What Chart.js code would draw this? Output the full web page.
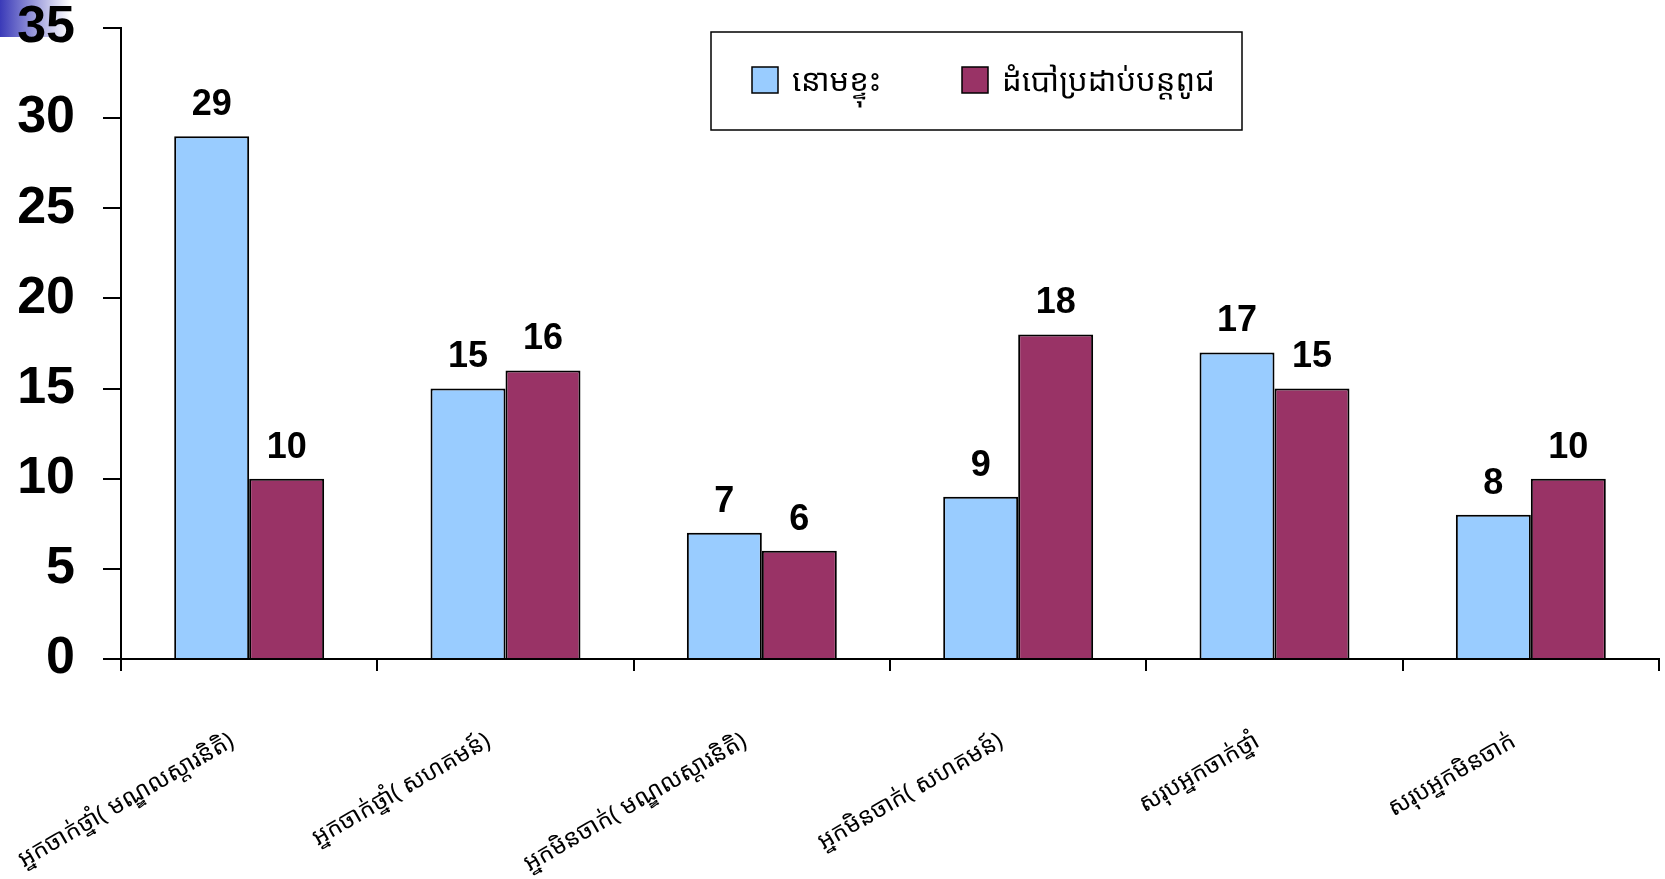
<!DOCTYPE html>
<html><head><meta charset="utf-8">
<script src="https://cdn.jsdelivr.net/npm/chart.js@4.4.1/dist/chart.umd.min.js"></script>
<style>
html,body{margin:0;padding:0;background:#fff;}
#wrap{position:relative;width:1665px;height:879px;}
#corner{position:absolute;left:0;top:0;width:70px;height:37px;background:linear-gradient(to right,#3a3ab8,#ffffff);}
canvas{position:absolute;left:0;top:0;}
</style></head>
<body>
<div id="wrap"><div id="corner"></div><canvas id="c" width="1665" height="879"></canvas></div>
<script>
const categories = [
  "អ្នកចាក់ថ្នាំ( មណ្ឌលស្តារនិតិ)",
  "អ្នកចាក់ថ្នាំ( សហគមន៍)",
  "អ្នកមិនចាក់( មណ្ឌលស្តារនិតិ)",
  "អ្នកមិនចាក់( សហគមន៍)",
  "សរុបអ្នកចាក់ថ្នាំ",
  "សរុបអ្នកមិនចាក់"
];
const seriesNames = ["នោមខ្ទុះ", "ដំបៅប្រដាប់បន្តពូជ"];
const gonorrhea = [29, 15, 7, 9, 17, 8];
const ulcer = [10, 16, 6, 18, 15, 10];
const yTicks = [0, 5, 10, 15, 20, 25, 30, 35];

const khmerFont = "'Noto Sans Khmer','Khmer OS','DejaVu Sans',sans-serif";

const valueLabels = {
  id: 'valueLabels',
  afterDatasetsDraw(chart) {
    const ctx = chart.ctx;
    ctx.save();
    ctx.font = "bold 36px 'Liberation Sans', Arial, sans-serif";
    ctx.fillStyle = '#000';
    ctx.textAlign = 'center';
    ctx.textBaseline = 'bottom';
    chart.data.datasets.forEach((ds, i) => {
      chart.getDatasetMeta(i).data.forEach((bar, j) => {
        ctx.fillText(String(ds.data[j]), bar.x, bar.y - 13);
      });
    });
    ctx.restore();
  }
};

const boxLegend = {
  id: 'boxLegend',
  afterDraw(chart) {
    const ctx = chart.ctx;
    ctx.save();
    const x0 = 711, y0 = 32, w = 531, h = 98;
    ctx.fillStyle = '#fff';
    ctx.fillRect(x0, y0, w, h);
    ctx.strokeStyle = '#000';
    ctx.lineWidth = 1.5;
    ctx.strokeRect(x0, y0, w, h);
    const items = [{x: 752}, {x: 962}];
    ctx.font = "31px " + khmerFont;
    ctx.textBaseline = 'middle';
    ctx.textAlign = 'left';
    chart.data.datasets.forEach((ds, i) => {
      const sx = items[i].x, sy = 67;
      ctx.fillStyle = ds.backgroundColor;
      ctx.fillRect(sx, sy, 26, 26);
      ctx.strokeStyle = '#000';
      ctx.lineWidth = 1.5;
      ctx.strokeRect(sx, sy, 26, 26);
      ctx.fillStyle = '#000';
      ctx.fillText(ds.label, sx + 40, sy + 15);
    });
    ctx.restore();
  }
};

new Chart(document.getElementById('c'), {
  type: 'bar',
  data: {
    labels: categories,
    datasets: [
      {label: seriesNames[0], data: gonorrhea, backgroundColor: '#99CCFF', borderColor: '#000', borderWidth: 2, borderSkipped: 'bottom'},
      {label: seriesNames[1], data: ulcer, backgroundColor: '#993366', borderColor: '#000', borderWidth: 2, borderSkipped: 'bottom'}
    ]
  },
  options: {
    responsive: false,
    animation: false,
    layout: {padding: {top: 28, right: 6, left: 0, bottom: 0}},
    plugins: {legend: {display: false}, tooltip: {enabled: false}},
    datasets: {bar: {categoryPercentage: 0.585, barPercentage: 1.0}},
    scales: {
      x: {
        offset: true,
        grid: {offset: true, drawOnChartArea: false, drawTicks: true, tickLength: 12, color: '#000', lineWidth: 2},
        border: {display: true, color: '#000', width: 2},
        ticks: {
          minRotation: 30, maxRotation: 30, autoSkip: false, color: '#000',
          font: {family: khmerFont, size: 24}, padding: 56, labelOffset: -17
        },
        afterFit(scale) { scale.height = 220; scale.paddingLeft = 0; scale.paddingRight = 0; }
      },
      y: {
        min: 0, max: 35,
        afterBuildTicks(scale) { scale.ticks = yTicks.map(v => ({value: v})); },
        grid: {drawOnChartArea: false, drawTicks: true, tickLength: 18, color: '#000', lineWidth: 2},
        border: {display: true, color: '#000', width: 2},
        ticks: {color: '#000', padding: 28, font: {family: "'Liberation Sans', Arial, sans-serif", size: 52, weight: 'bold'}},
        afterFit(scale) { scale.width = 121; scale.paddingTop = 0; scale.paddingBottom = 0; }
      }
    }
  },
  plugins: [valueLabels, boxLegend]
});
</script>
</body></html>
